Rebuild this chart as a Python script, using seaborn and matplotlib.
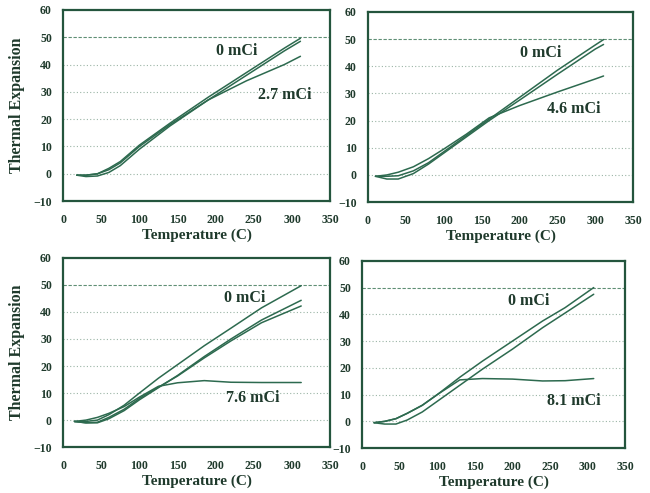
import numpy as np
import pandas as pd
import matplotlib
matplotlib.use("Agg")
import matplotlib.pyplot as plt
import seaborn as sns

# ---------------- data ----------------
# Panel A : 2.7 mCi
a_temp = [18, 30, 45, 60, 75, 100, 140, 190, 240, 290, 311]
a_zero_up = [-0.5, -0.5, 0.0, 2.0, 4.5, 10.5, 18.5, 28.0, 37.0, 46.0, 49.6]
a_zero_lo = [-0.5, -1.0, -0.8, 0.5, 3.0, 9.0, 17.5, 27.0, 36.0, 45.0, 48.5]
a_dose = [-0.5, -0.5, 0.0, 1.5, 4.0, 10.0, 18.0, 27.0, 34.0, 40.0, 43.0]

# Panel B : 4.6 mCi
b_temp = [10, 25, 40, 60, 80, 100, 130, 160, 200, 250, 300, 311]
b_zero_up = [-0.5, -0.5, -0.3, 1.5, 4.5, 8.5, 14.5, 20.5, 28.5, 38.5, 47.8, 49.8]
b_zero_lo = [-0.5, -1.5, -1.5, 0.5, 4.0, 8.0, 14.0, 20.0, 27.5, 37.0, 46.3, 48.0]
b_dose = [-0.5, 0.0, 1.0, 3.0, 6.0, 9.5, 15.0, 21.0, 25.5, 30.5, 35.3, 36.4]

# Panel C : 7.6 mCi
c_temp = [15, 30, 45, 60, 80, 100, 125, 150, 185, 220, 260, 312]
c_zero_up = [-0.5, -0.5, 0.0, 2.0, 5.5, 10.0, 15.5, 20.5, 27.5, 34.0, 41.5, 49.7]
c_zero_lo1 = [-0.5, -1.0, -1.0, 0.5, 3.5, 7.5, 12.0, 16.5, 23.5, 30.0, 37.0, 44.3]
c_zero_lo2 = [-0.5, -1.0, -0.8, 1.0, 4.0, 8.0, 12.2, 16.3, 23.0, 29.3, 36.0, 42.2]
c_dose = [-0.5, 0.0, 1.0, 2.5, 5.0, 8.5, 12.5, 13.8, 14.6, 14.0, 13.9, 13.9]

# Panel D : 8.1 mCi
d_temp = [16, 30, 45, 60, 80, 100, 130, 160, 200, 240, 270, 308]
d_zero_up = [-0.5, 0.0, 1.0, 3.0, 6.0, 10.0, 16.5, 22.5, 30.0, 37.5, 42.5, 50.0]
d_zero_lo = [-0.5, -1.0, -1.0, 0.5, 3.5, 7.5, 13.5, 19.5, 27.0, 35.0, 40.5, 47.5]
d_dose = [-0.5, 0.0, 1.0, 3.0, 6.0, 10.0, 15.5, 16.0, 15.8, 15.1, 15.2, 16.0]

dose_labels = ["2.7 mCi", "4.6 mCi", "7.6 mCi", "8.1 mCi"]
zero_label = "0 mCi"
x_ticks = [0, 50, 100, 150, 200, 250, 300, 350]
y_ticks = [-10, 0, 10, 20, 30, 40, 50, 60]
x_title = "Temperature (C)"
y_title = "Thermal Expansion"

panels = [
    (a_temp, {"0 up": a_zero_up, "0 lo": a_zero_lo, "dose": a_dose}),
    (b_temp, {"0 up": b_zero_up, "0 lo": b_zero_lo, "dose": b_dose}),
    (c_temp, {"0 up": c_zero_up, "0 lo1": c_zero_lo1, "0 lo2": c_zero_lo2, "dose": c_dose}),
    (d_temp, {"0 up": d_zero_up, "0 lo": d_zero_lo, "dose": d_dose}),
]

# label positions (data coords)
zero_pos = [(228, 44.8), (228, 44.8), (238, 45.0), (221, 45.0)]
dose_pos = [(291, 28.9), (272, 24.2), (249, 8.0), (281, 7.5)]

# ---------------- style ----------------
sns.set_style("white")
plt.rcParams["font.family"] = ["Liberation Serif", "DejaVu Serif"]
plt.rcParams["font.weight"] = "bold"

green = "#2d6a4f"
frame = "#24553d"
txt = "#1f3a2c"
grid_c = "#9bb5a6"

fig = plt.figure(figsize=(6.5, 4.93), dpi=100)
rects = [
    [0.097, 0.592, 0.411, 0.388],
    [0.566, 0.590, 0.408, 0.386],
    [0.097, 0.093, 0.411, 0.384],
    [0.557, 0.091, 0.405, 0.380],
]

for i, (temps, curves) in enumerate(panels):
    ax = fig.add_axes(rects[i])
    rows = []
    for name, vals in curves.items():
        for t, v in zip(temps, vals):
            rows.append({"Temperature": t, "Expansion": v, "curve": name})
    df = pd.DataFrame(rows)
    pal = {k: green for k in curves}
    sns.lineplot(data=df, x="Temperature", y="Expansion", hue="curve",
                 palette=pal, estimator=None, sort=False, legend=False,
                 linewidth=1.1, ax=ax)
    ax.set_xlim(0, 350)
    ax.set_ylim(-10, 60)
    ax.set_xticks(x_ticks)
    ax.set_yticks(y_ticks)
    ax.tick_params(axis="both", length=0, labelsize=8.5, labelcolor=txt)
    ax.tick_params(axis="x", pad=9)
    ax.tick_params(axis="y", pad=8)
    for lab in ax.get_xticklabels() + ax.get_yticklabels():
        lab.set_fontweight("bold")
    ax.yaxis.grid(True, linestyle=(0, (1, 2)), color=grid_c, linewidth=0.8)
    gl = ax.get_ygridlines()
    gl[y_ticks.index(50)].set_color("#5f8f74")
    gl[y_ticks.index(50)].set_linestyle((0, (3, 1.5)))
    gl[y_ticks.index(-10)].set_visible(False)
    gl[y_ticks.index(60)].set_visible(False)
    ax.xaxis.grid(False)
    for s in ax.spines.values():
        s.set_color(frame)
        s.set_linewidth(1.6)
        s.set_visible(True)
    ax.set_xlabel(x_title, fontsize=11, fontweight="bold", color=txt, labelpad=2)
    if i % 2 == 0:
        ax.set_ylabel(y_title, fontsize=11.5, fontweight="bold", color=txt, labelpad=6)
    else:
        ax.set_ylabel("")
    ax.text(*zero_pos[i], zero_label, fontsize=11.5, fontweight="bold",
            color=txt, ha="center", va="center")
    ax.text(*dose_pos[i], dose_labels[i], fontsize=11.5, fontweight="bold",
            color=txt, ha="center", va="center")

fig.savefig("out.png", dpi=100)
